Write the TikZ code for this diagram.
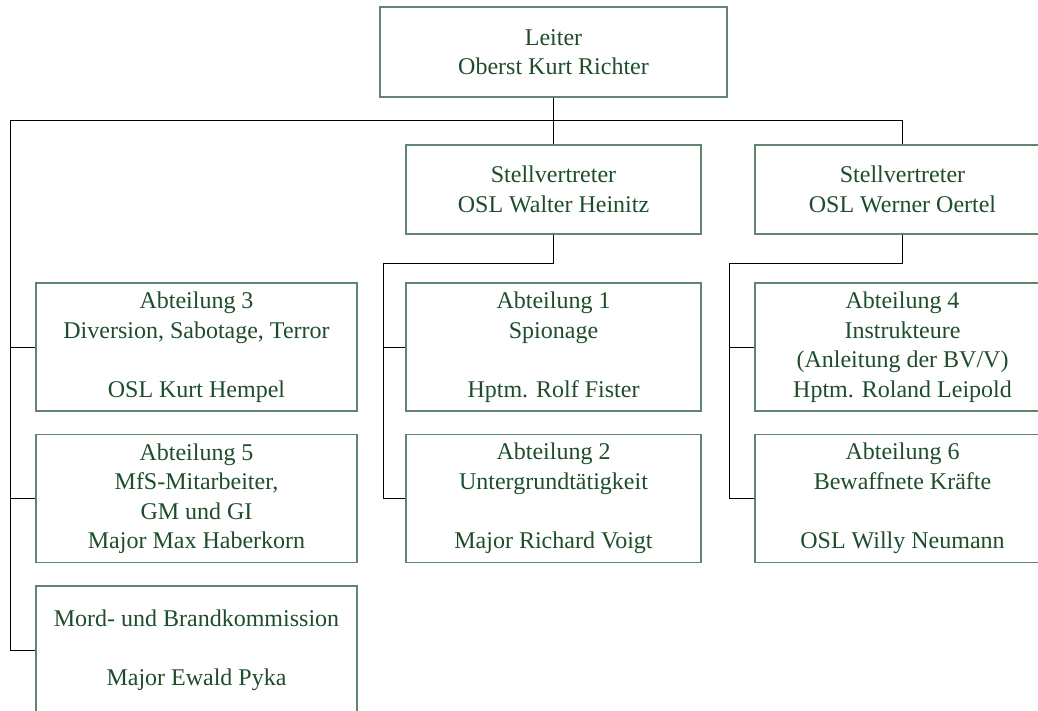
\documentclass[tikz,border=0pt]{standalone}
\usepackage{fontspec}
\setmainfont{Liberation Serif}
\definecolor{boxline}{HTML}{628570}
\definecolor{boxtext}{HTML}{1E4D2B}
\begin{document}
\begin{tikzpicture}[x=1pt,y=1pt,
  unit/.style={draw=boxline, line width=1.1pt, text=boxtext, align=center,
    inner sep=0pt, font=\fontsize{24}{29.5}\selectfont},
  wide/.style={unit, minimum width=347pt, minimum height=90pt},
  deputy/.style={unit, minimum width=295pt, minimum height=89pt},
  deptL/.style={unit, minimum width=321pt, minimum height=128pt},
  deptR/.style={unit, minimum width=295pt, minimum height=128pt},
  link/.style={draw=black, line width=0.9pt}]
\clip (0,0) rectangle (1038,-710);

% head of the unit
\node[wide] (leiter) at (553.5,-52) {Leiter\\Oberst Kurt Richter};

% deputies
\node[deputy] (st1) at (553.5,-189.5) {Stellvertreter\\OSL Walter Heinitz};
\node[deputy] (st2) at (902.5,-189.5) {Stellvertreter\\OSL Werner Oertel};

% departments directly under the head
\node[deptL] (ab3) at (196.5,-347) {Abteilung 3\\Diversion, Sabotage, Terror\\[29.5pt]OSL Kurt Hempel};
\node[deptL] (ab5) at (196.5,-498.5) {Abteilung 5\\MfS-Mitarbeiter,\\GM und GI\\Major Max Haberkorn};
\node[deptL] (mord) at (196.5,-650) {Mord- und Brandkommission\\[29.5pt]Major Ewald Pyka};

% departments under the first deputy
\node[deptR] (ab1) at (553.5,-347) {Abteilung 1\\Spionage\\[29.5pt]Hptm. Rolf Fister};
\node[deptR] (ab2) at (553.5,-498.5) {Abteilung 2\\Untergrundtätigkeit\\[29.5pt]Major Richard Voigt};

% departments under the second deputy
\node[deptR] (ab4) at (902.5,-347) {Abteilung 4\\Instrukteure\\(Anleitung der BV/V)\\Hptm. Roland Leipold};
\node[deptR] (ab6) at (902.5,-498.5) {Abteilung 6\\Bewaffnete Kräfte\\[29.5pt]OSL Willy Neumann};

% junction points of the connector lines
\coordinate (rail) at (10,-120);
\coordinate (midrail) at (383,-263);
\coordinate (rightrail) at (729,-263);

% head to deputies and to the left column
\draw[link] (leiter.south) -- (st1.north);
\draw[link] (rail) -- (rail -| st2.north) -- (st2.north);
\draw[link] (rail) |- (mord.west);
\draw[link] (rail |- ab3.west) -- (ab3.west);
\draw[link] (rail |- ab5.west) -- (ab5.west);

% first deputy to its departments
\draw[link] (st1.south) |- (midrail) |- (ab2.west);
\draw[link] (midrail |- ab1.west) -- (ab1.west);

% second deputy to its departments
\draw[link] (st2.south) |- (rightrail) |- (ab6.west);
\draw[link] (rightrail |- ab4.west) -- (ab4.west);
\end{tikzpicture}
\end{document}
